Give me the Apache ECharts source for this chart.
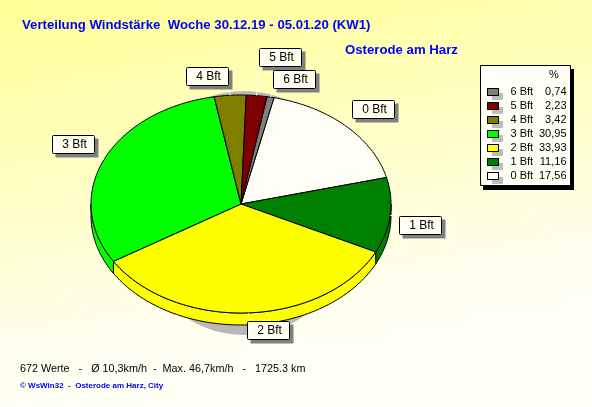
<!DOCTYPE html>
<html><head><meta charset="utf-8">
<style>html,body{margin:0;padding:0;background:#fff}#c{width:592px;height:407px}</style>
<script src="https://cdn.jsdelivr.net/npm/echarts@6/dist/echarts.min.js"></script>
</head><body><div id="c"></div>
<script>
// Data, in clockwise pie order
const categories = ['0 Bft','1 Bft','2 Bft','3 Bft','4 Bft','5 Bft','6 Bft'];
const percentValues = [17.56,11.16,33.93,30.95,3.42,2.23,0.74];
const percentLabels = ['17,56','11,16','33,93','30,95','3,42','2,23','0,74'];
const legendOrder = ['6 Bft','5 Bft','4 Bft','3 Bft','2 Bft','1 Bft','0 Bft'];
const titleText = 'Verteilung Windstärke  Woche 30.12.19 - 05.01.20 (KW1)';
const stationText = 'Osterode am Harz';
const summaryText = '672 Werte   -   Ø 10,3km/h  -  Max. 46,7km/h   -   1725.3 km';
const creditText = '© WsWin32  -  Osterode am Harz, City';

// Style
const sliceColors = ['#fffff6','#008000','#ffff00','#00ff00','#808000','#800000','#808080'];
const CX=241, CY=204, RX=150, RY=109, DEPTH=12, START=12.7;
const labelOffsets = [[6,-26],[9,1],[-1,8],[-52,-25],[-44,-28],[2,-48],[2,-27]]; // box corner from anchor
const BOXW=43, BOXH=19;
const LEG={x:480,y:65,w:91,h:121,rowTop:88,rowH:14,swX:487,swW:11,swH:7};

const total = percentValues.reduce((a,b)=>a+b,0);
const starts = []; let acc = START;
percentValues.forEach(v=>{starts.push(acc); acc += v/total*360;});
function pt(deg,dy){const r=deg*Math.PI/180; return [CX+RX*Math.sin(r), CY-RY*Math.cos(r)+(dy||0)];}
function arc(a,b,dy){const o=[];const n=Math.max(2,Math.ceil((b-a)/1.5));for(let i=0;i<=n;i++)o.push(pt(a+(b-a)*i/n,dy));return o;}

function sliceRender(i){
  return function(params,api){
    const a=starts[i], b=a+api.value(0)/total*360;
    const children=[];
    const walls=[[a,b],[a-360,b-360]];
    walls.forEach(([w0,w1])=>{
      const s=Math.max(w0,90), e=Math.min(w1,270);
      if(e>s){
        const top=arc(s,e,0), bot=arc(s,e,DEPTH).reverse();
        children.push({type:'polygon',shape:{points:top.concat(bot)},style:{fill:sliceColors[i],stroke:'#000',lineWidth:1}});
      }
    });
    children.push({type:'polygon',shape:{points:[[CX,CY]].concat(arc(a,b,0))},style:{fill:sliceColors[i],stroke:'#000',lineWidth:1}});
    return {type:'group',children};
  };
}
function labelRender(params,api){
  const i=params.dataIndex;
  const mid=starts[i]+api.value(0)/total*180;
  const p=pt(mid,0);
  const [dx,dy]=labelOffsets[i];
  const x=Math.round(p[0]+dx), y=Math.round(p[1]+dy);
  const tx=Math.max(x+2,Math.min(x+BOXW-2,p[0])), ty=p[1]>y+BOXH?y+BOXH:(p[1]<y?y:y+BOXH/2);
  const ex=p[0]>x+BOXW?x+BOXW:(p[0]<x?x:tx);
  return {type:'group',children:[
    {type:'line',shape:{x1:p[0],y1:p[1],x2:ex,y2:ty},style:{stroke:'#fffff0',lineWidth:1}},
    {type:'rect',shape:{x:x+3.5,y:y+3.5,width:BOXW,height:BOXH},style:{fill:'#808080'}},
    {type:'rect',shape:{x:x+.5,y:y+.5,width:BOXW-1,height:BOXH-1,r:1},style:{fill:'#fffff0',stroke:'#000',lineWidth:1}},
    {type:'text',style:{x:x+BOXW/2+1,y:y+BOXH/2+.5,text:categories[i],align:'center',verticalAlign:'middle',
      font:'12px "Liberation Sans"',fill:'#000'}}
  ]};
}
function legendBackRender(){
  return {type:'group',children:[
    {type:'rect',shape:{x:LEG.x+3,y:LEG.y+4,width:LEG.w,height:LEG.h},style:{fill:'#000'}},
    {type:'rect',shape:{x:LEG.x+.5,y:LEG.y+.5,width:LEG.w-1,height:LEG.h-1},style:{fill:'#fffff6',stroke:'#000',lineWidth:1}}
  ]};
}
// Swatch with its offset grey shadow, in legend order
function swatchRender(params){
  const k=params.dataIndex, y=LEG.rowTop+k*LEG.rowH;
  const color=sliceColors[categories.indexOf(legendOrder[k])];
  return {type:'group',children:[
    {type:'rect',shape:{x:LEG.swX+5,y:y+5,width:LEG.swW,height:LEG.swH},style:{fill:'#bcbcbc'}},
    {type:'rect',shape:{x:LEG.swX+.5,y:y+.5,width:LEG.swW,height:LEG.swH},style:{fill:color,stroke:'#000',lineWidth:1}}
  ]};
}

const series=[{
  type:'custom',coordinateSystem:'none',silent:true,z:1,data:[[1]],
  renderItem:()=>({type:'ellipse',shape:{cx:244,cy:213,rx:112,ry:122},style:{fill:'#b8b8b8'}})
},{
  type:'custom',coordinateSystem:'none',silent:true,z:1,data:[[1]],renderItem:legendBackRender
},{
  type:'custom',coordinateSystem:'none',silent:true,z:8,data:legendOrder.map(()=>[1]),renderItem:swatchRender
}];
categories.forEach((c,i)=>series.push({
  type:'custom',name:c,coordinateSystem:'none',silent:true,z:2,
  itemStyle:{color:sliceColors[i]},data:[[percentValues[i]]],renderItem:sliceRender(i)
}));
series.push({type:'custom',coordinateSystem:'none',silent:true,z:5,
  data:percentValues.map(v=>[v]),renderItem:labelRender});

const ttl=(text,left,top,size,weight,color)=>({text,left,top,padding:0,
  textStyle:{fontFamily:'Liberation Sans',fontSize:size,fontWeight:weight,color}});

echarts.init(document.getElementById('c'),null,{renderer:'canvas'}).setOption({
  animation:false,
  backgroundColor:{type:'linear',x:0,y:0,x2:0.12,y2:1,colorStops:[
    {offset:0,color:'#ffff96'},{offset:0.5,color:'#ffffc8'},{offset:0.85,color:'#fffff0'},{offset:1,color:'#fffff4'}]},
  title:[
    ttl(titleText,22,19,13.2,'bold','#0000ff'),
    ttl(stationText,345,44,13.2,'bold','#0000ff'),
    ttl(summaryText,20,364,10.8,'normal','#000'),
    ttl(creditText,20,382,8,'bold','#0000ff')
  ],
  legend:{
    show:true,orient:'vertical',left:480,top:65,z:6,padding:[20,5,3,7],itemGap:0,
    selectedMode:false,data:legendOrder,icon:'rect',itemWidth:11,itemHeight:7,
    itemStyle:{borderColor:'#000',borderWidth:1},
    formatter:n=>`{n|${n}}{v|${percentLabels[categories.indexOf(n)]}}`,
    textStyle:{fontFamily:'Liberation Sans',fontSize:11,color:'#000',lineHeight:14,
      rich:{n:{width:32,padding:[0,0,0,7],fontFamily:'Liberation Sans',fontSize:11,lineHeight:14},
            v:{width:24,align:'right',fontFamily:'Liberation Sans',fontSize:11,lineHeight:14}}}
  },
  graphic:[{type:'text',left:549,top:69,z:10,style:{text:'%',font:'11px "Liberation Sans"',fill:'#000'}}],
  series
});
</script></body></html>
